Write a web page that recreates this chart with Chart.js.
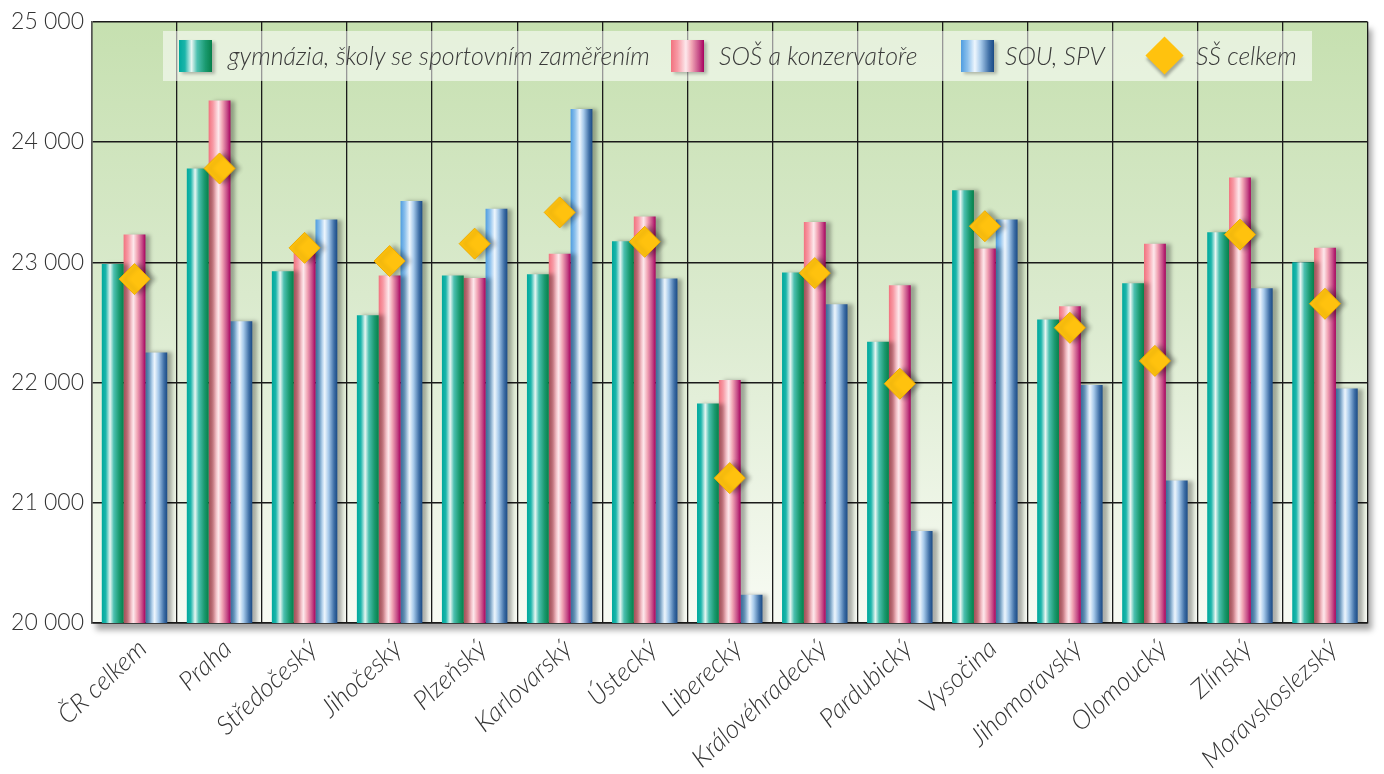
<!DOCTYPE html>
<html>
<head>
<meta charset="utf-8">
<script src="https://cdn.jsdelivr.net/npm/chart.js@4"></script>
<style>
  body { margin: 0; background: #fff; }
  #wrap { position: relative; width: 1384px; height: 774px; }
  #legend {
    position: absolute; left: 163px; top: 31px; width: 1149px; height: 50px;
    background: rgba(255, 255, 255, 0.55);
    font-family: Lato, "Open Sans", sans-serif; font-weight: 300; font-style: italic;
    font-size: 25px; color: #3a3a3a;
  }
  #legend .sw { position: absolute; top: 9px; width: 33px; height: 32px; box-shadow: 3px 2px 3px rgba(0,0,0,0.25); }
  #legend .tx { position: absolute; top: 8px; line-height: 32px; white-space: nowrap; }
  #legend .dia {
    position: absolute; left: 988px; top: 11px; width: 27px; height: 27px;
    background: #ffc20e; transform: rotate(45deg);
    box-shadow: 3px 2px 3px rgba(0,0,0,0.3);
  }
</style>
</head>
<body>
<div id="wrap">
  <canvas id="chart" width="1384" height="774"></canvas>
  <div id="legend"></div>
</div>
<script>
// kraje
const categories = ['ČR celkem', 'Praha', 'Středočeský', 'Jihočeský', 'Plzeňský', 'Karlovarský', 'Ústecký',
  'Liberecký', 'Královéhradecký', 'Pardubický', 'Vysočina', 'Jihomoravský', 'Olomoucký', 'Zlínský', 'Moravskoslezský'];

const seriesNames = ['gymnázia, školy se sportovním zaměřením', 'SOŠ a konzervatoře', 'SOU, SPV', 'SŠ celkem'];

// hodnoty
const gymnazia = [22985, 23780, 22925, 22560, 22890, 22900, 23175, 21825, 22915, 22340, 23600, 22525, 22825, 23250, 23000];
const sos = [23230, 24345, 23080, 22890, 22870, 23070, 23380, 22020, 23335, 22810, 23115, 22635, 23155, 23705, 23120];
const sou = [22250, 22510, 23355, 23510, 23445, 24275, 22865, 20235, 22650, 20765, 23355, 21980, 21185, 22785, 21950];
const ssCelkem = [22860, 23780, 23120, 23010, 23155, 23415, 23170, 21205, 22910, 21990, 23300, 22455, 22180, 23230, 22655];

const yTicks = [20000, 21000, 22000, 23000, 24000, 25000];

// barevné přechody sloupců (zleva doprava)
const barStops = [
  [[0, '#00a99d'], [0.18, '#1bb5aa'], [0.38, '#e8f6f2'], [0.55, '#4cc0b0'], [0.8, '#1a9a70'], [1, '#07804a']],
  [[0, '#f2727f'], [0.2, '#f79aa5'], [0.45, '#fde8ec'], [0.62, '#f2a7b6'], [0.85, '#c44a86'], [1, '#a8005e']],
  [[0, '#4f9de0'], [0.2, '#8cc0ec'], [0.42, '#eef6fd'], [0.6, '#a6c9ea'], [0.85, '#3f6fa6'], [1, '#1a4a85']]
];

// legenda
const legend = document.getElementById('legend');
const legendPos = [[16, 65], [508, 556], [798, 842], [null, 1033]];
seriesNames.forEach((name, i) => {
  if (i < 3) {
    const sw = document.createElement('div');
    sw.className = 'sw';
    sw.style.left = legendPos[i][0] + 'px';
    sw.style.background = 'linear-gradient(to right,' + barStops[i].map(s => s[1] + ' ' + (s[0] * 100) + '%').join(',') + ')';
    legend.appendChild(sw);
  } else {
    const d = document.createElement('div');
    d.className = 'dia';
    legend.appendChild(d);
  }
  const tx = document.createElement('div');
  tx.className = 'tx';
  tx.style.left = legendPos[i][1] + 'px';
  tx.textContent = name;
  legend.appendChild(tx);
});

const plotLook = {
  id: 'plotLook',
  beforeDraw(chart) {
    const { ctx, chartArea: a } = chart;
    ctx.save();
    ctx.shadowColor = 'rgba(0,0,0,0.35)';
    ctx.shadowOffsetX = 4;
    ctx.shadowOffsetY = 7;
    ctx.shadowBlur = 6;
    const g = ctx.createLinearGradient(0, a.top, 0, a.bottom);
    g.addColorStop(0, '#c6e0b0');
    g.addColorStop(0.5, '#dcebd0');
    g.addColorStop(1, '#f8fbf4');
    ctx.fillStyle = g;
    ctx.fillRect(a.left, a.top, a.right - a.left, a.bottom - a.top);
    ctx.restore();
  },
  beforeDatasetsDraw(chart) {
    const ctx = chart.ctx;
    chart.data.datasets.forEach((ds, i) => {
      if (ds.type === 'line') return;
      chart.getDatasetMeta(i).data.forEach(bar => {
        const g = ctx.createLinearGradient(bar.x - bar.width / 2, 0, bar.x + bar.width / 2, 0);
        barStops[i].forEach(s => g.addColorStop(s[0], s[1]));
        bar.options = Object.assign({}, bar.options, { backgroundColor: g });
      });
    });
    ctx.save();
    ctx.shadowColor = 'rgba(0,0,0,0.3)';
    ctx.shadowOffsetX = 5;
    ctx.shadowOffsetY = 0;
    ctx.shadowBlur = 4;
  },
  afterDatasetsDraw(chart) {
    chart.ctx.restore();
  }
};

const tickFont = { family: 'Lato, "Open Sans", sans-serif', size: 23, weight: 300 };

new Chart(document.getElementById('chart'), {
  type: 'bar',
  data: {
    labels: categories,
    datasets: [
      { label: seriesNames[0], data: gymnazia, order: 1, backgroundColor: '#00a99d' },
      { label: seriesNames[1], data: sos, order: 1, backgroundColor: '#f2727f' },
      { label: seriesNames[2], data: sou, order: 1, backgroundColor: '#4f9de0' },
      {
        type: 'line', label: seriesNames[3], data: ssCelkem, order: 0,
        showLine: false, pointStyle: 'rectRot', pointRadius: 15.5, pointHoverRadius: 15.5,
        backgroundColor: '#ffc20e', borderColor: '#f0ad00', borderWidth: 1
      }
    ]
  },
  options: {
    responsive: false,
    animation: false,
    layout: { padding: { top: 15, right: 4, left: 0, bottom: 0 } },
    datasets: { bar: { categoryPercentage: 0.77, barPercentage: 1, borderWidth: 0 } },
    plugins: { legend: { display: false }, tooltip: { enabled: false } },
    scales: {
      x: {
        offset: true,
        grid: { offset: true, color: '#1a1a1a', lineWidth: 1.3, drawTicks: false },
        border: { color: '#1a1a1a', width: 1.5 },
        ticks: {
          color: '#333', minRotation: 43, maxRotation: 43, padding: 10, labelOffset: 8,
          font: Object.assign({}, tickFont, { style: 'italic', size: 26 })
        },
        afterFit(scale) { scale.height = 151; }
      },
      y: {
        min: yTicks[0],
        max: yTicks[yTicks.length - 1],
        afterBuildTicks(scale) { scale.ticks = yTicks.map(v => ({ value: v })); },
        grid: { color: '#1a1a1a', lineWidth: 1.5, drawTicks: false },
        border: { color: '#555', width: 1.5 },
        ticks: {
          color: '#333', padding: 8, font: tickFont,
          callback: v => String(v).replace(/\B(?=(\d{3})+(?!\d))/g, ' ')
        },
        afterFit(scale) { scale.width = 92; }
      }
    }
  },
  plugins: [plotLook]
});
</script>
</body>
</html>
